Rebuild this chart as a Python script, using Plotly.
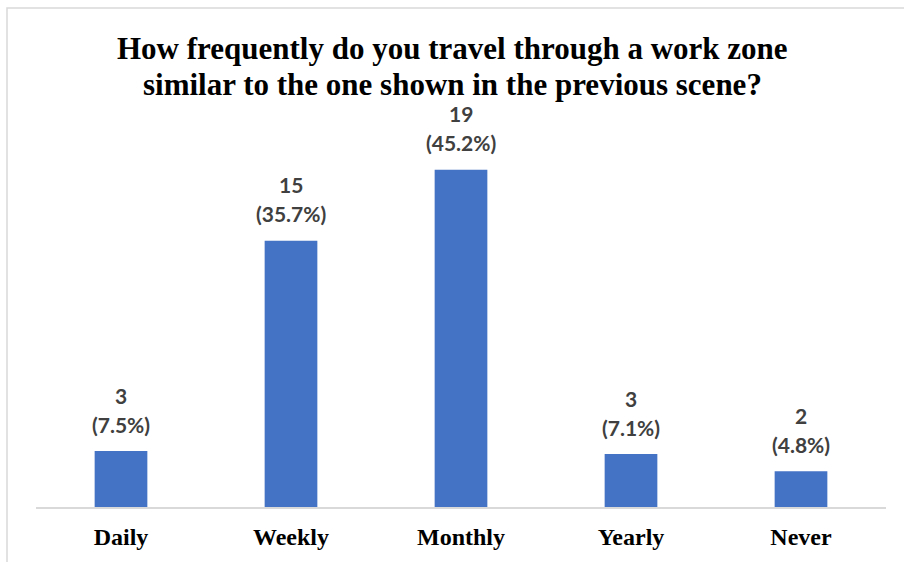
import plotly.graph_objects as go

categories = ["Daily", "Weekly", "Monthly", "Yearly", "Never"]
counts = [3, 15, 19, 3, 2]
percents = [7.5, 35.7, 45.2, 7.1, 4.8]
title_lines = [
    "How frequently do you travel through a work zone",
    "similar to the one shown in the previous scene?",
]

fig = go.Figure(
    go.Bar(
        x=categories,
        y=percents,
        marker=dict(color="#4472C4", line=dict(width=0)),
        hoverinfo="skip",
    )
)

label_font = dict(family="Lato", size=21, color="#404040", weight="bold")
for cat, c, p in zip(categories, counts, percents):
    fig.add_annotation(x=cat, y=p, text=f"({p}%)", showarrow=False,
                       yanchor="middle", yshift=27, font=label_font)
    fig.add_annotation(x=cat, y=p, text=str(c), showarrow=False,
                       yanchor="middle", yshift=56, font=label_font)

title_font = dict(family="Liberation Serif", size=31, color="black", weight="bold")
for line, ypix in zip(title_lines, [48, 84]):
    fig.add_annotation(xref="paper", yref="paper", x=(452 - 36) / 850,
                       y=(510 - ypix) / 376, text=line, showarrow=False,
                       xanchor="center", yanchor="middle", font=title_font)

fig.update_layout(
    width=904,
    height=562,
    margin=dict(l=36, r=18, t=134, b=52),
    paper_bgcolor="white",
    plot_bgcolor="white",
    bargap=0.69,
    showlegend=False,
    xaxis=dict(
        showline=True,
        linecolor="#d9d9d9",
        linewidth=1.5,
        ticks="",
        ticklabelstandoff=7,
        tickfont=dict(family="Liberation Serif", size=24, color="black", weight="bold"),
        showgrid=False,
    ),
    yaxis=dict(
        range=[0, 50],
        visible=False,
        showgrid=False,
    ),
)

fig.add_shape(
    type="rect",
    xref="paper",
    yref="paper",
    x0=(7 - 36) / 850,
    x1=1.2,
    y0=-0.3,
    y1=(510 - 7) / 376,
    line=dict(color="#d9d9d9", width=1.5),
    fillcolor="rgba(0,0,0,0)",
    layer="below",
)

fig.write_html("out.html")
